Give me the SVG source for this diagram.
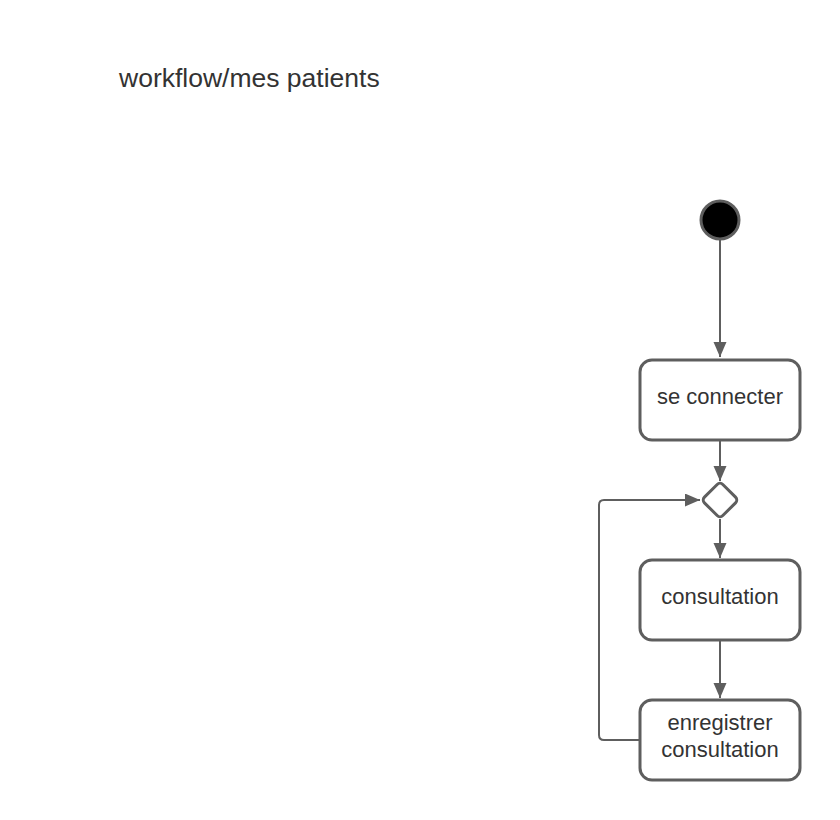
<svg xmlns="http://www.w3.org/2000/svg" width="840" height="820" viewBox="0 0 840 820">
<style>
.box{fill:#fff;stroke:#5e5e5e;stroke-width:3}
.lbl{font-family:"Liberation Sans",Arial,sans-serif;font-size:22px;fill:#333;text-anchor:middle}
.ln{fill:none;stroke:#5e5e5e;stroke-width:2}
</style>
<defs>
<marker id="ah" markerWidth="16" markerHeight="14" refX="15" refY="6.5" orient="auto" markerUnits="userSpaceOnUse">
<path d="M0,0 L15,6.5 L0,13 Z" fill="#5e5e5e"/>
</marker>
</defs>
<rect width="840" height="820" fill="#fff"/>
<text x="119" y="87" font-family="'Liberation Sans',Arial,sans-serif" font-size="26.5" fill="#333">workflow/mes patients</text>
<g id="connectors">
<path class="ln" d="M720,240 V357" marker-end="url(#ah)"/>
<path class="ln" d="M720,441 V481" marker-end="url(#ah)"/>
<path class="ln" d="M720,519 V558" marker-end="url(#ah)"/>
<path class="ln" d="M720,641 V698" marker-end="url(#ah)"/>
<path class="ln" d="M639,740 H604 Q599,740 599,735 V505 Q599,500 604,500 H700" marker-end="url(#ah)"/>
</g>
<g id="start"><circle cx="720" cy="220" r="19" fill="#000" stroke="#5e5e5e" stroke-width="3"/></g>
<g id="se-connecter"><rect class="box" x="640" y="360" width="160" height="80" rx="12"/><text class="lbl" x="720" y="404">se connecter</text></g>
<g id="decision"><rect class="box" x="707" y="487" width="26" height="26" rx="4" transform="rotate(45 720 500)"/></g>
<g id="consultation"><rect class="box" x="640" y="560" width="160" height="80" rx="12"/><text class="lbl" x="720" y="604">consultation</text></g>
<g id="enregistrer"><rect class="box" x="640" y="700" width="160" height="80" rx="12"/><text class="lbl" x="720" y="730">enregistrer</text><text class="lbl" x="720" y="757">consultation</text></g>
</svg>
